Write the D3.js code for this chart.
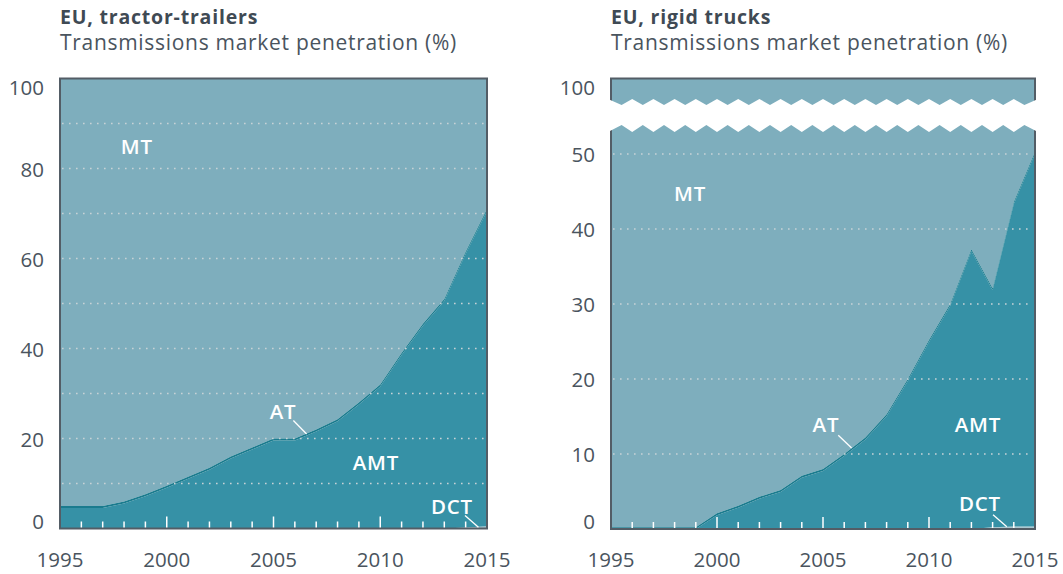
<!DOCTYPE html>
<html>
<head>
<meta charset="utf-8">
<script src="https://cdn.jsdelivr.net/npm/d3@7"></script>
<style>
  body { margin: 0; background: #fff; }
  svg { display: block; }
  text { font-family: "Open Sans", sans-serif; }
</style>
</head>
<body>
<div id="chart"></div>
<script>
// years on the x axis
const years = [1995, 1996, 1997, 1998, 1999, 2000, 2001, 2002, 2003, 2004, 2005,
               2006, 2007, 2008, 2009, 2010, 2011, 2012, 2013, 2014, 2015];
const yearTicks = [1995, 2000, 2005, 2010, 2015];

// tractor-trailers (%), stacked bottom-up: DCT, AMT, AT; MT is the rest up to 100
const trailerDCT = [0, 0, 0, 0, 0, 0, 0, 0, 0, 0, 0, 0, 0, 0, 0, 0, 0, 0, 0, 0.25, 0.5];
const trailerAMT = [4.55, 4.55, 4.55, 5.55, 7.15, 9.05, 11.05, 13.05, 15.55, 17.55, 19.55,
                    19.55, 21.55, 23.85, 27.55, 31.55, 38.55, 45.05, 50.55, 60.8, 70.05];
const trailerAT  = [0.45, 0.45, 0.45, 0.45, 0.45, 0.45, 0.45, 0.45, 0.45, 0.45, 0.45,
                    0.45, 0.45, 0.45, 0.45, 0.45, 0.45, 0.45, 0.45, 0.45, 0.45];

// rigid trucks (%)
const rigidDCT = [0, 0, 0, 0, 0, 0, 0, 0, 0, 0, 0, 0, 0, 0, 0, 0, 0, 0, 0.25, 0.35, 0.35];
const rigidAMT = [0, 0, 0, 0, 0, 1.85, 2.85, 4.05, 4.95, 6.85, 7.75,
                  9.75, 11.95, 15.05, 19.75, 24.95, 29.75, 37.05, 31.6, 43.0, 49.7];
const rigidAT  = [0.25, 0.25, 0.25, 0.25, 0.25, 0.25, 0.25, 0.25, 0.25, 0.25, 0.25,
                  0.25, 0.25, 0.25, 0.25, 0.25, 0.25, 0.25, 0.25, 0.25, 0.25];

const trailerTicks = [0, 20, 40, 60, 80, 100];
const trailerGrid = [10, 20, 30, 40, 50, 60, 70, 80, 90];
const rigidTicks = [0, 10, 20, 30, 40, 50, 100];
const rigidGrid = [10, 20, 30, 40, 50];

const colors = { MT: "#7eaebd", AMT: "#3691a6", AT: "#1a7b8e", DCT: "#aac8d1" };
const frameColor = "#535d66";
const textColor = "#4a545e";

const svg = d3.select("#chart").append("svg")
    .attr("width", 1063)
    .attr("height", 574);

function drawPanel(p) {
  const g = svg.append("g");
  const x = d3.scaleLinear().domain([1995, 2015]).range([p.left, p.right]);
  const y = d3.scaleLinear().domain(p.yDomain).range(p.yRange);
  const top = y(100), base = y(0);

  const rows = years.map((yr, i) => ({ year: yr, DCT: p.dct[i], AMT: p.amt[i], AT: p.at[i] }));
  const series = d3.stack().keys(["DCT", "AMT", "AT"])(rows);
  const last = series[series.length - 1];

  // MT fills the rest up to 100
  g.append("path")
    .datum(last)
    .attr("fill", colors.MT)
    .attr("d", d3.area().x(d => x(d.data.year)).y0(d => y(d[1])).y1(() => top));

  g.selectAll("path.layer")
    .data(series)
    .join("path")
    .attr("class", "layer")
    .attr("fill", d => colors[d.key])
    .attr("d", d3.area().x(d => x(d.data.year)).y0(d => y(d[0])).y1(d => y(d[1])));

  // dotted gridlines
  g.selectAll("line.grid")
    .data(p.grid)
    .join("line")
    .attr("class", "grid")
    .attr("x1", p.left + 2).attr("x2", p.right - 2)
    .attr("y1", d => y(d)).attr("y2", d => y(d))
    .attr("stroke", "#c8d2d6")
    .attr("stroke-width", 1.6)
    .attr("stroke-dasharray", "1.6,5.4");

  // white year ticks standing on the baseline
  g.selectAll("line.xtick")
    .data(years.slice(1, -1))
    .join("line")
    .attr("class", "xtick")
    .attr("x1", d => x(d)).attr("x2", d => x(d))
    .attr("y1", base)
    .attr("y2", d => base - (d % 5 === 0 ? 12 : 7))
    .attr("stroke", "#fff")
    .attr("stroke-width", 1.5);

  // frame
  g.append("rect")
    .attr("x", p.left).attr("y", top)
    .attr("width", p.right - p.left).attr("height", base - top)
    .attr("fill", "none")
    .attr("stroke", frameColor)
    .attr("stroke-width", 2);

  // axis break (rigid trucks)
  if (p.brk) {
    const per = x(1996) - x(1995);
    const n = Math.round((p.right - p.left) / per);
    const topEdge = [], botEdge = [];
    for (let k = 0; k <= n; k++) {
      const xx = p.left + k * per;
      topEdge.push([xx, p.brk[0]]);
      botEdge.push([xx, p.brk[3]]);
      if (k < n) {
        topEdge.push([xx + per / 2, p.brk[1]]);
        botEdge.push([xx + per / 2, p.brk[2]]);
      }
    }
    topEdge[0][0] -= 3; botEdge[0][0] -= 3;
    topEdge[topEdge.length - 1][0] += 3; botEdge[botEdge.length - 1][0] += 3;
    g.append("path")
      .attr("fill", "#fff")
      .attr("d", d3.line()(topEdge.concat(botEdge.reverse())) + "Z");
  }

  // y tick labels
  g.selectAll("text.ytick")
    .data(p.ticks)
    .join("text")
    .attr("class", "ytick")
    .attr("x", p.left - 16)
    .attr("y", d => d === 0 ? base : d === 100 ? top + 8 : y(d))
    .attr("dominant-baseline", d => d === 0 ? "alphabetic" : "central")
    .attr("text-anchor", "end")
    .attr("fill", textColor)
    .attr("font-size", 20.5)
    .text(d => d);

  // x tick labels
  g.selectAll("text.xlab")
    .data(yearTicks)
    .join("text")
    .attr("class", "xlab")
    .attr("x", d => x(d))
    .attr("y", 559)
    .attr("dominant-baseline", "central")
    .attr("text-anchor", "middle")
    .attr("fill", textColor)
    .attr("font-size", 20.5)
    .text(d => d);

  // titles
  g.append("text")
    .attr("x", p.left).attr("y", 23.5)
    .attr("fill", "#3f4a54")
    .attr("font-size", 19.5).attr("font-weight", 700)
    .attr("letter-spacing", 0.8)
    .text(p.title);
  g.append("text")
    .attr("x", p.left).attr("y", 49.5)
    .attr("fill", textColor)
    .attr("font-size", 21)
    .attr("letter-spacing", 0.7)
    .text("Transmissions market penetration (%)");

  // series labels and leader lines
  g.selectAll("line.leader")
    .data(p.leaders)
    .join("line")
    .attr("class", "leader")
    .attr("x1", d => x(d[0])).attr("y1", d => y(d[1]))
    .attr("x2", d => x(d[2])).attr("y2", d => y(d[3]))
    .attr("stroke", "#fff")
    .attr("stroke-width", 1.3);

  g.selectAll("text.slab")
    .data(p.labels)
    .join("text")
    .attr("class", "slab")
    .attr("x", d => x(d.year)).attr("y", d => y(d.value))
    .attr("text-anchor", "middle")
    .attr("dominant-baseline", "central")
    .attr("fill", "#fff")
    .attr("font-size", 20.5)
    .attr("font-weight", 600)
    .attr("letter-spacing", 0.8)
    .text(d => d.name);
}

drawPanel({
  left: 60, right: 487,
  yDomain: [0, 100], yRange: [528.5, 78.5],
  title: "EU, tractor-trailers",
  dct: trailerDCT, amt: trailerAMT, at: trailerAT,
  ticks: trailerTicks, grid: trailerGrid,
  labels: [
    { name: "MT", year: 1998.6, value: 84.9 },
    { name: "AT", year: 2005.45, value: 26.2 },
    { name: "AMT", year: 2009.8, value: 14.7 },
    { name: "DCT", year: 2013.36, value: 5.1 }
  ],
  leaders: [[2005.93, 24, 2006.55, 21.0], [2013.97, 2.9, 2014.6, 0.3]]
});

drawPanel({
  left: 611, right: 1035,
  yDomain: [0, 53, 100], yRange: [529, 131.5, 78.5],
  title: "EU, rigid trucks",
  dct: rigidDCT, amt: rigidAMT, at: rigidAT,
  ticks: rigidTicks, grid: rigidGrid,
  brk: [99, 105, 125, 132],
  labels: [
    { name: "MT", year: 1998.73, value: 44.8 },
    { name: "AT", year: 2005.14, value: 14 },
    { name: "AMT", year: 2012.31, value: 14 },
    { name: "DCT", year: 2012.4, value: 3.5 }
  ],
  leaders: [[2005.72, 12.5, 2006.35, 10.8], [2013.02, 1.9, 2013.67, 0.3]]
});
</script>
</body>
</html>
